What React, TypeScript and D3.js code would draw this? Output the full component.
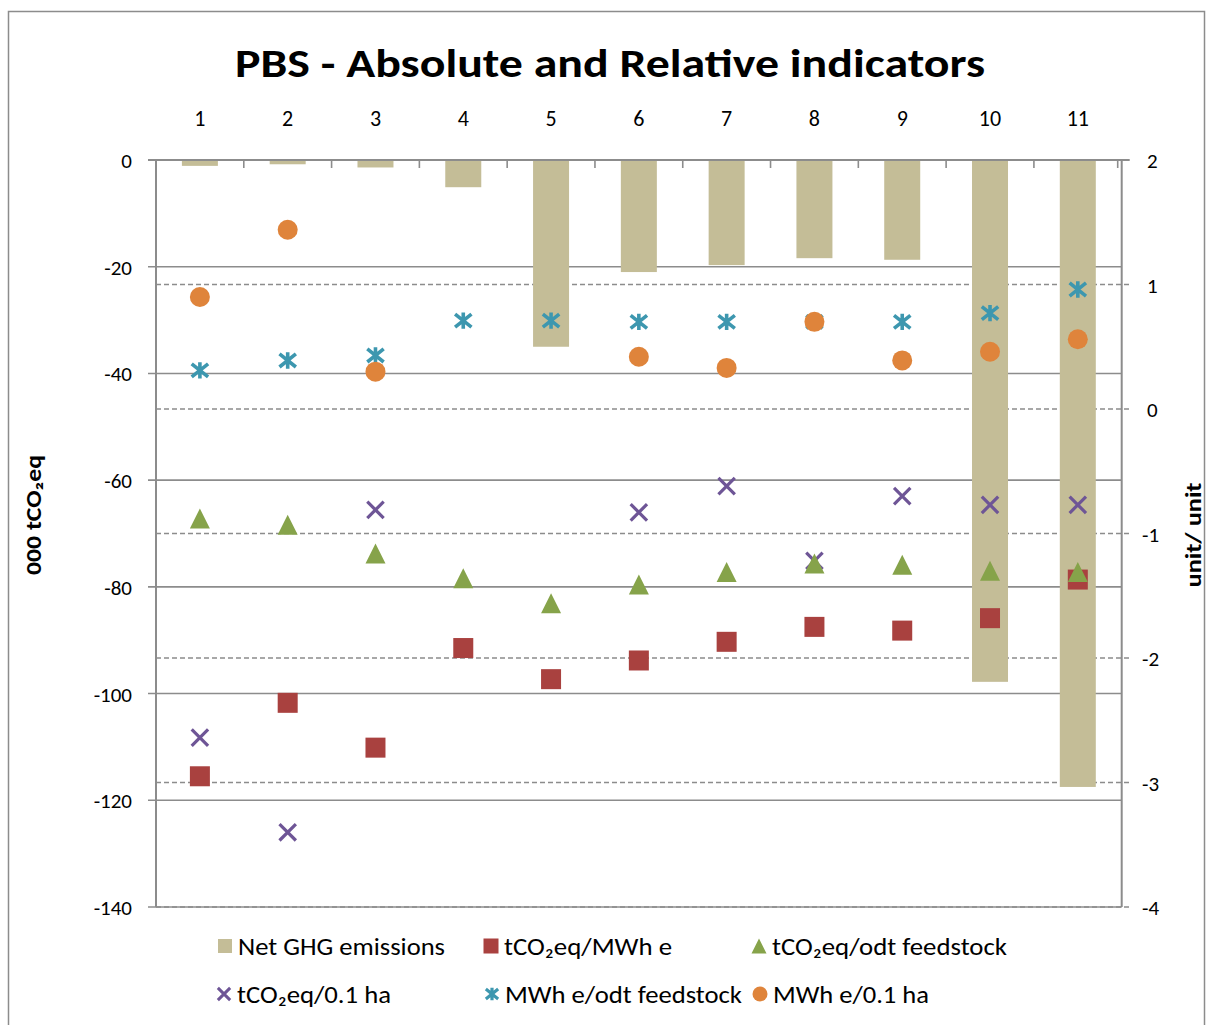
import React from "react";
import * as d3 from "d3";

const categories = ["1", "2", "3", "4", "5", "6", "7", "8", "9", "10", "11"];
const netGHG = [-1.1, -0.8, -1.4, -5.1, -35, -21, -19.7, -18.4, -18.7, -97.8, -117.5];
const tco2PerMWh = [-2.95, -2.36, -2.72, -1.92, -2.17, -2.02, -1.87, -1.75, -1.78, -1.68, -1.37];
const tco2PerOdt = [-0.88, -0.93, -1.16, -1.36, -1.56, -1.41, -1.31, -1.24, -1.25, -1.3, -1.31];
const tco2PerHa: (number | null)[] = [-2.64, -3.4, -0.81, null, null, -0.83, -0.62, -1.22, -0.7, -0.77, -0.77];
const mwhPerOdt = [0.31, 0.39, 0.43, 0.71, 0.71, 0.7, 0.7, 0.7, 0.7, 0.77, 0.96];
const mwhPerHa: (number | null)[] = [0.9, 1.44, 0.3, null, null, 0.42, 0.33, 0.7, 0.39, 0.46, 0.56];
const leftTicks = [0, -20, -40, -60, -80, -100, -120, -140];
const rightTicks = [2, 1, 0, -1, -2, -3, -4];

const FONT = "Carlito, Calibri, Lato, 'Open Sans', sans-serif";
const C = {
  bar: "#c4bd97",
  red: "#a9413f",
  green: "#86a34a",
  purple: "#6e5596",
  teal: "#3d97af",
  orange: "#df843b",
  grid: "#8c8c8c",
};

type Kind = "square" | "triangle" | "x" | "star" | "circle";

function Marker({ kind, x, y, color, s = 20 }: { kind: Kind; x: number; y: number; color: string; s?: number }) {
  const h = s / 2;
  if (kind === "square") return <rect x={x - h} y={y - h} width={s} height={s} fill={color} />;
  if (kind === "circle") return <circle cx={x} cy={y} r={h} fill={color} />;
  if (kind === "triangle")
    return <path d={`M${x},${y - h}L${x + h},${y + h}L${x - h},${y + h}Z`} fill={color} />;
  const k = h * 0.82;
  if (kind === "x")
    return (
      <path d={`M${x - k},${y - k}L${x + k},${y + k}M${x - k},${y + k}L${x + k},${y - k}`} stroke={color} strokeWidth={s > 16 ? 3.2 : 3} />
    );
  return (
    <path
      d={`M${x - k},${y - k * 0.8}L${x + k},${y + k * 0.8}M${x - k},${y + k * 0.8}L${x + k},${y - k * 0.8}M${x},${y - k}L${x},${y + k}`}
      stroke={color}
      strokeWidth={s > 16 ? 3.6 : 3.2}
    />
  );
}

export default function App() {
  const W = 1207, H = 1025;
  const L = 156, R = 1121.7, T = 160, B = 907;
  const x = d3.scaleBand<string>().domain(categories).range([L, R]).padding(0);
  const yL = d3.scaleLinear().domain([-140, 0]).range([B, T]);
  const yR = d3.scaleLinear().domain([-4, 2]).range([B, T]);
  const bw = x.bandwidth() * 0.41;
  const cx = (i: number) => (x(categories[i]) as number) + x.bandwidth() / 2;

  const series: { vals: (number | null)[]; kind: Kind; color: string }[] = [
    { vals: tco2PerHa, kind: "x", color: C.purple },
    { vals: mwhPerOdt, kind: "star", color: C.teal },
    { vals: mwhPerHa, kind: "circle", color: C.orange },
    { vals: tco2PerMWh, kind: "square", color: C.red },
    { vals: tco2PerOdt, kind: "triangle", color: C.green },
  ];

  const legend: { label: string; kind: Kind | "bar"; color: string; lx: number; ly: number; len: number }[] = [
    { label: "Net GHG emissions", kind: "bar", color: C.bar, lx: 225, ly: 946, len: 207 },
    { label: "tCO₂eq/MWh e", kind: "square", color: C.red, lx: 491, ly: 946, len: 168 },
    { label: "tCO₂eq/odt feedstock", kind: "triangle", color: C.green, lx: 759, ly: 946, len: 235 },
    { label: "tCO₂eq/0.1 ha", kind: "x", color: C.purple, lx: 224, ly: 994, len: 154 },
    { label: "MWh e/odt feedstock", kind: "star", color: C.teal, lx: 492, ly: 994, len: 237 },
    { label: "MWh e/0.1 ha", kind: "circle", color: C.orange, lx: 760, ly: 994, len: 156 },
  ];

  return (
    <svg width={W} height={H} style={{ position: "absolute", left: 0, top: 0 }} fontFamily={FONT}>
      <rect x={0} y={0} width={W} height={H} fill="#fff" />
      <rect x={8.5} y={11.5} width={1196} height={1030} fill="#fff" stroke="#8c8c8c" strokeWidth={1.5} />
      <text x={610} y={77} textAnchor="middle" fontSize={41} fontWeight="bold" fill="#000" textLength={750} lengthAdjust="spacingAndGlyphs">
        PBS - Absolute and Relative indicators
      </text>

      {/* gridlines */}
      {leftTicks.map((t) => (
        <line key={"gl" + t} x1={L - 8} x2={R} y1={yL(t)} y2={yL(t)} stroke={C.grid} strokeWidth={1.6} />
      ))}
      {rightTicks.map((t) => (
        <line key={"gr" + t} x1={L} x2={R + 8} y1={yR(t)} y2={yR(t)} stroke={C.grid} strokeWidth={1.4} strokeDasharray="5,3" />
      ))}

      {/* bars */}
      {netGHG.map((v, i) => (
        <rect key={"b" + i} x={cx(i) - bw / 2} y={yL(0)} width={bw} height={yL(v) - yL(0)} fill={C.bar} />
      ))}

      {/* axes */}
      <line x1={L} x2={L} y1={T} y2={B} stroke={C.grid} strokeWidth={2} />
      <line x1={R} x2={R} y1={T} y2={B} stroke={C.grid} strokeWidth={2} />
      <line x1={L - 8} x2={R + 8} y1={T} y2={T} stroke={C.grid} strokeWidth={2} />
      {categories.map((c, i) =>
        i === 0 ? null : (
          <line key={"t" + c} x1={x(c)} x2={x(c)} y1={T} y2={T + 8} stroke={C.grid} strokeWidth={1.6} />
        )
      )}
      <line x1={R - 4} x2={R - 4} y1={T} y2={T + 8} stroke={C.grid} strokeWidth={1.6} />

      {/* markers */}
      {series.map((s, si) =>
        s.vals.map((v, i) =>
          v === null ? null : <Marker key={si + "-" + i} kind={s.kind} x={cx(i)} y={yR(v)} color={s.color} />
        )
      )}

      {/* tick labels */}
      {categories.map((c, i) => (
        <text key={"c" + c} x={cx(i)} y={126} textAnchor="middle" fontSize={22} fill="#000">
          {c}
        </text>
      ))}
      {leftTicks.map((t) => (
        <text key={"ll" + t} x={132} y={yL(t) + 8} textAnchor="end" fontSize={21} fill="#000">
          {t}
        </text>
      ))}
      {rightTicks.map((t) => (
        <text key={"rl" + t} x={t < 0 ? 1142 : 1147} y={yR(t) + 8} textAnchor="start" fontSize={21} fill="#000">
          {t}
        </text>
      ))}

      {/* axis titles */}
      <text transform="translate(41,515) rotate(-90)" textAnchor="middle" fontSize={22} fontWeight="bold" fill="#000" textLength={120} lengthAdjust="spacingAndGlyphs">
        000 tCO₂eq
      </text>
      <text transform="translate(1201,535) rotate(-90)" textAnchor="middle" fontSize={22} fontWeight="bold" fill="#000" textLength={105} lengthAdjust="spacingAndGlyphs">
        unit/ unit
      </text>

      {/* legend */}
      {legend.map((l, i) => (
        <g key={"lg" + i}>
          {l.kind === "bar" ? (
            <rect x={l.lx - 7} y={l.ly - 7} width={14} height={14} fill={l.color} />
          ) : (
            <Marker kind={l.kind} x={l.lx} y={l.ly} color={l.color} s={15} />
          )}
          <text x={l.lx + 13} y={l.ly + 9} fontSize={24} fill="#000" textLength={l.len} lengthAdjust="spacingAndGlyphs">
            {l.label}
          </text>
        </g>
      ))}
    </svg>
  );
}
